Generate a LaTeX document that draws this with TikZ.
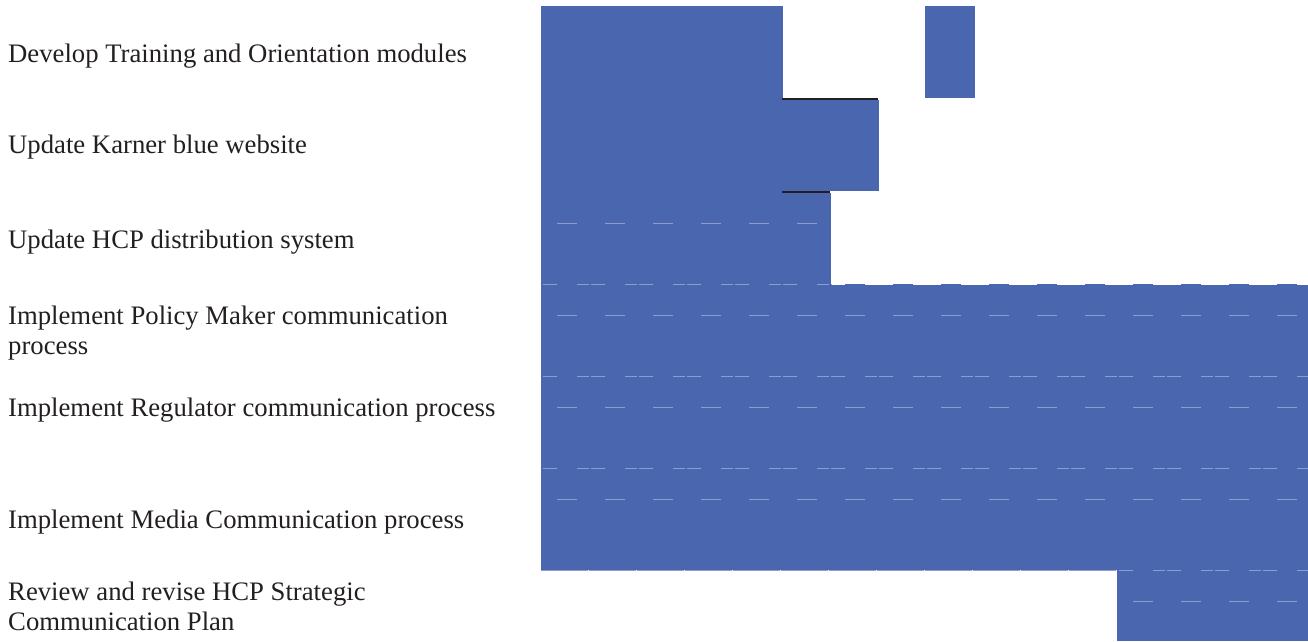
\documentclass[tikz,border=0pt]{standalone}
\usepackage{fontspec}
\setmainfont{Liberation Serif}
\usepackage{xcolor}
\definecolor{barblue}{RGB}{74,102,175}
\definecolor{dashblue}{RGB}{139,157,210}
\definecolor{inkgray}{RGB}{35,31,32}

\begin{document}
\begin{tikzpicture}[x=1pt,y=-1pt,
    task/.style={anchor=base west, inner sep=0pt, text=inkgray, align=left,
      font=\fontsize{26.7}{30}\selectfont},
    gridA/.style={dashblue, line width=1pt, dash pattern=on 20pt off 28pt, dash phase=32pt},
    gridB/.style={dashblue, line width=1pt, dash pattern=on 12pt off 1.5pt on 14.5pt off 20pt, dash phase=12pt}]
    \useasboundingbox (0,0) rectangle (1308,641);

    % task names (base of a two-line name is its last line)
    \node[task] (train) at (8,62) {Develop Training and Orientation modules};
    \node[task] (web) at (8,153.5) {Update Karner blue website};
    \node[task] (dist) at (8,248) {Update HCP distribution system};
    \node[task] (policy) at (8,354.5) {Implement Policy Maker communication\\process};
    \node[task] (reg) at (8,416.5) {Implement Regulator communication process};
    \node[task] (media) at (8,528) {Implement Media Communication process};
    \node[task] (review) at (8,630) {Review and revise HCP Strategic\\Communication Plan};

    % bars
    \fill [color=barblue] (541,6) rectangle (783,285);
    \fill [color=barblue] (925,6) rectangle (975,98);
    \fill [color=barblue] (782,100) rectangle (879,191);
    \fill [color=barblue] (782,193) rectangle (831,285);
    \fill [color=barblue] (541,285) rectangle (1308,570);
    \fill [color=barblue] (1117,570) rectangle (1308,641);
    \draw [barblue, line width=1pt, dash pattern=on 20pt off 28pt, dash phase=32pt] (541,284.5) -- (1308,284.5);

    % light grid dashes
    \draw [gridA] (541,223) -- (831,223);
    \draw [gridB] (541,284.5) -- (831,284.5);
    \foreach \yy in {315,407,499} {
      \draw [gridA] (541,\yy) -- (1308,\yy);
    }
    \foreach \yy in {376,468} {
      \draw [gridB] (541,\yy) -- (1308,\yy);
    }
    \draw [dashblue, line width=1pt, dash pattern=on 46.5pt off 1.5pt, dash phase=0pt] (541,570) -- (1117,570);
    \draw [gridB] (1117,570) -- (1308,570);
    \draw [gridA] (1117,601) -- (1308,601);

    % dark edges
    \draw [inkgray, line width=2pt] (782,99) -- (878,99);
    \draw [inkgray, line width=2pt] (782,192) -- (830,192);
\end{tikzpicture}
\end{document}
